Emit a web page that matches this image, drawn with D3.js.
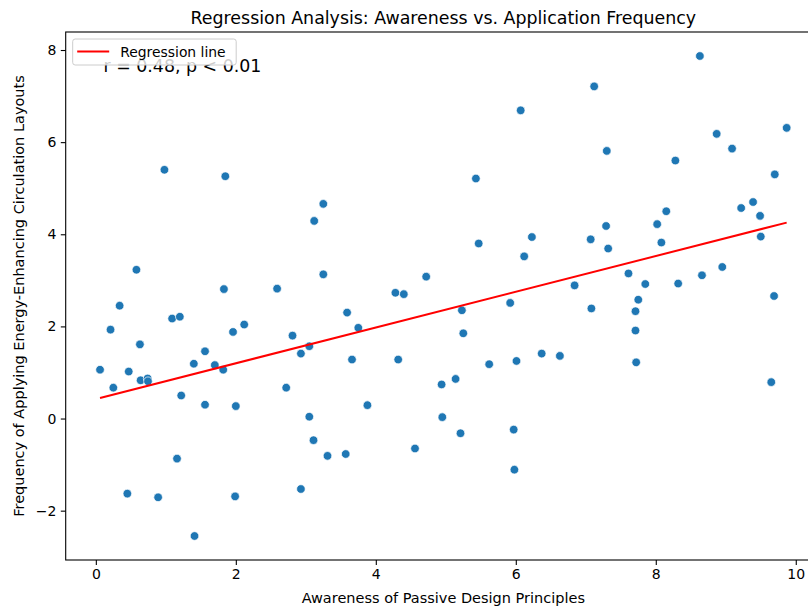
<!DOCTYPE html>
<html>
<head>
<meta charset="utf-8">
<script src="https://cdn.jsdelivr.net/npm/d3@7"></script>
<style>
  body { margin: 0; background: #fff; }
  text { font-family: "DejaVu Sans", sans-serif; }
</style>
</head>
<body>
<script>
// Awareness of passive design principles (x)
const awareness = [
  0.98, 1.85, 6.07, 5.43, 3.25, 8.63, 7.12, 9.87, 8.87, 9.09,
  7.30, 8.28, 9.70, 9.39, 9.22, 8.15, 9.49, 7.29, 8.02, 7.07,
  8.08, 9.50, 7.32, 7.61, 6.84, 7.85, 8.32, 8.66, 8.95, 7.75,
  9.69, 7.08, 7.71, 7.71, 6.63, 7.72, 9.65, 3.12, 5.47, 6.23,
  6.12, 3.25, 4.72, 4.28, 4.40, 5.92, 3.59, 5.23, 3.75, 5.25,
  3.05, 2.93, 3.66, 4.32, 5.62, 6.01, 6.37, 4.94, 5.14, 3.05,
  3.88, 4.95, 3.11, 5.21, 5.97, 3.31, 3.57, 4.56, 5.98, 2.93,
  0.58, 0.34, 1.83, 2.59, 1.09, 1.20, 0.21, 1.96, 2.12, 0.63,
  2.81, 1.56, 0.06, 0.47, 1.40, 1.70, 1.82, 0.64, 0.74, 0.745,
  0.25, 2.72, 1.22, 1.56, 2.00, 1.16, 0.45, 0.89, 1.99, 1.41
];

// Frequency of applying energy-enhancing circulation layouts (y)
const frequency = [
  5.40, 5.26, 6.69, 5.21, 4.66, 7.87, 7.21, 6.31, 6.18, 5.86,
  5.81, 5.60, 5.30, 4.70, 4.57, 4.50, 4.40, 4.18, 4.22, 3.89,
  3.82, 3.95, 3.69, 3.15, 2.89, 2.92, 2.93, 3.11, 3.29, 2.58,
  2.66, 2.39, 2.33, 1.91, 1.36, 1.22, 0.79, 4.29, 3.80, 3.94,
  3.52, 3.13, 3.08, 2.73, 2.70, 2.51, 2.30, 2.35, 1.97, 1.85,
  1.57, 1.41, 1.28, 1.28, 1.18, 1.25, 1.41, 0.74, 0.86, 0.04,
  0.29, 0.03, -0.47, -0.32, -0.24, -0.81, -0.77, -0.65, -1.11, -1.53,
  3.23, 2.45, 2.81, 2.82, 2.17, 2.21, 1.93, 1.88, 2.04, 1.61,
  1.80, 1.46, 1.06, 1.02, 1.19, 1.16, 1.06, 0.83, 0.87, 0.81,
  0.67, 0.67, 0.50, 0.30, 0.27, -0.87, -1.63, -1.71, -1.69, -2.55
];

const xTicks = [0, 2, 4, 6, 8, 10];
const yTicks = [-2, 0, 2, 4, 6, 8];
const statText = "r = 0.48, p < 0.01";

const points = awareness.map((a, i) => ({ a, f: frequency[i] }));

const W = 808, H = 608;
const margin = { top: 32, right: -13, bottom: 48, left: 65.7 };
const width = W - margin.left - margin.right,
  height = H - margin.top - margin.bottom;

const svg = d3.select("body").append("svg")
  .attr("width", W).attr("height", H);

// matplotlib-like 5% padding around the data
const xExt = d3.extent(awareness), yExt = d3.extent(frequency);
const xPad = (xExt[1] - xExt[0]) * 0.05, yPad = (yExt[1] - yExt[0]) * 0.05;

const x = d3.scaleLinear().domain([xExt[0] - xPad, xExt[1] + xPad]).range([0, width]);
const y = d3.scaleLinear().domain([yExt[0] - yPad, yExt[1] + yPad]).range([height, 0]);

const g = svg.append("g")
  .attr("transform", "translate(" + margin.left + "," + margin.top + ")");

// least squares fit
const mx = d3.mean(awareness), my = d3.mean(frequency);
const slope = d3.sum(points, p => (p.a - mx) * (p.f - my)) / d3.sum(points, p => (p.a - mx) ** 2);
const intercept = my - slope * mx;

// points
g.selectAll("circle.dot")
  .data(points)
  .enter().append("circle")
  .attr("class", "dot")
  .attr("cx", p => x(p.a))
  .attr("cy", p => y(p.f))
  .attr("r", 4.3)
  .attr("fill", "#1f77b4")
  .attr("stroke", "#fff")
  .attr("stroke-width", 0.7);

// regression line
g.append("line")
  .attr("x1", x(xExt[0])).attr("y1", y(intercept + slope * xExt[0]))
  .attr("x2", x(xExt[1])).attr("y2", y(intercept + slope * xExt[1]))
  .attr("stroke", "#ff0000")
  .attr("stroke-width", 2);

// axes
const xAxis = d3.axisBottom(x).tickValues(xTicks).tickSize(4.9).tickPadding(4.5);
const yAxis = d3.axisLeft(y).tickValues(yTicks).tickSize(4.9).tickPadding(4.5);

g.append("g")
  .attr("transform", "translate(0," + height + ")")
  .call(xAxis)
  .call(a => a.select(".domain").remove());

g.append("g")
  .call(yAxis)
  .call(a => a.select(".domain").remove());

g.selectAll(".tick text")
  .attr("font-family", "DejaVu Sans")
  .attr("font-size", 14)
  .attr("fill", "#000");
g.selectAll(".tick line").attr("stroke", "#000").attr("stroke-width", 1.1);

// frame
g.append("rect")
  .attr("width", width).attr("height", height)
  .attr("fill", "none")
  .attr("stroke", "#000")
  .attr("stroke-width", 1.1);

// stats text (sits partly under the legend, as in the original)
g.append("text")
  .attr("x", width * 0.05)
  .attr("y", 39.8)
  .attr("font-size", 17.4)
  .text(statText);

// legend
const legend = g.append("g").attr("transform", "translate(7,7)");
legend.append("rect")
  .attr("width", 163.5).attr("height", 26)
  .attr("rx", 2.5)
  .attr("fill", "#fff").attr("fill-opacity", 0.8)
  .attr("stroke", "#cccccc").attr("stroke-width", 1);
legend.append("line")
  .attr("x1", 4.5).attr("x2", 36.5)
  .attr("y1", 12.5).attr("y2", 12.5)
  .attr("stroke", "#ff0000").attr("stroke-width", 2);
legend.append("text")
  .attr("x", 47.5).attr("y", 17.7)
  .attr("font-size", 13.9)
  .text("Regression line");

// title and labels
svg.append("text")
  .attr("x", margin.left + width / 2).attr("y", 23.5)
  .attr("text-anchor", "middle")
  .attr("font-size", 17.4)
  .text("Regression Analysis: Awareness vs. Application Frequency");

svg.append("text")
  .attr("x", margin.left + width / 2).attr("y", 603)
  .attr("text-anchor", "middle")
  .attr("font-size", 14.5)
  .text("Awareness of Passive Design Principles");

svg.append("text")
  .attr("transform", "translate(24," + (margin.top + height / 2) + ") rotate(-90)")
  .attr("text-anchor", "middle")
  .attr("font-size", 14.5)
  .text("Frequency of Applying Energy-Enhancing Circulation Layouts");
</script>
</body>
</html>
